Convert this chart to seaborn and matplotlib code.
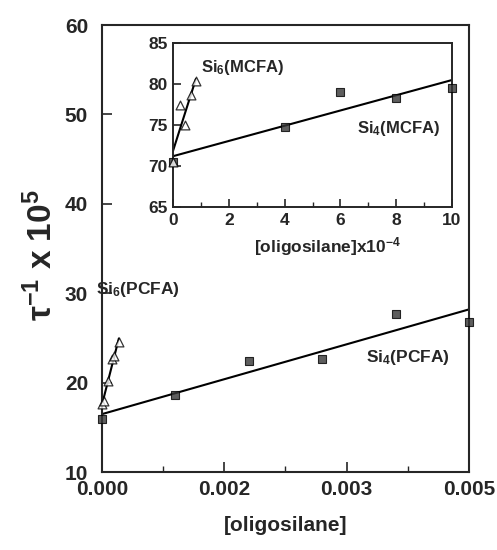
import numpy as np
import pandas as pd
import matplotlib
matplotlib.use("Agg")
import matplotlib.pyplot as plt
import matplotlib.ticker as mticker
import seaborn as sns

# ---- data ----
si4_pcfa_x = [0.0, 0.001, 0.002, 0.003, 0.004, 0.005]
si4_pcfa_y = [15.9, 18.6, 22.4, 22.6, 27.7, 26.8]
si6_pcfa_x = [0.0, 0.00003, 0.00008, 0.00013, 0.00017, 0.00023]
si6_pcfa_y = [17.6, 17.9, 20.2, 22.6, 23.0, 24.5]

si4_mcfa_x = [0.0, 4.0, 6.0, 8.0, 10.0]
si4_mcfa_y = [70.5, 74.7, 79.0, 78.3, 79.5]
si6_mcfa_x = [0.0, 0.25, 0.43, 0.63, 0.82]
si6_mcfa_y = [70.5, 77.4, 75.0, 78.7, 80.4]

main_yticks = [10, 20, 30, 40, 50, 60]
inset_yticks = [65, 70, 75, 80, 85]
inset_xticks = [0, 2, 4, 6, 8, 10]

sns.set_style("ticks")
plt.rcParams["font.family"] = ["Liberation Sans", "DejaVu Sans"]
plt.rcParams["font.weight"] = "bold"
plt.rcParams["mathtext.fontset"] = "custom"
plt.rcParams["mathtext.rm"] = "Liberation Sans:bold"
plt.rcParams["mathtext.it"] = "Liberation Sans:bold"
plt.rcParams["mathtext.bf"] = "Liberation Sans:bold"

fig = plt.figure(figsize=(4.97, 5.5), dpi=100)
ax = fig.add_axes([0.2052, 0.1418, 0.7384, 0.8127])
axi = fig.add_axes([0.3481, 0.6236, 0.5614, 0.2982])

sq_kws = dict(s=38, color="#363636", edgecolor="black", linewidths=0.8,
              zorder=3, clip_on=False)
tri_kws = dict(s=40, facecolor="white", edgecolor="black", linewidths=0.9,
               zorder=3, clip_on=False)
line_kws = dict(color="black", lw=1.5, zorder=2)

d1 = pd.DataFrame({"x": si4_pcfa_x, "y": si4_pcfa_y})
d2 = pd.DataFrame({"x": si6_pcfa_x, "y": si6_pcfa_y})
sns.regplot(data=d1, x="x", y="y", ax=ax, ci=None, marker="s",
            scatter_kws=sq_kws, line_kws=line_kws)
sns.regplot(data=d2, x="x", y="y", ax=ax, ci=None, marker="^",
            scatter_kws=tri_kws, line_kws=line_kws)

d3 = pd.DataFrame({"x": si4_mcfa_x, "y": si4_mcfa_y})
d4 = pd.DataFrame({"x": si6_mcfa_x, "y": si6_mcfa_y})
sns.regplot(data=d3, x="x", y="y", ax=axi, ci=None, marker="s",
            scatter_kws=sq_kws, line_kws=line_kws)
sns.regplot(data=d4, x="x", y="y", ax=axi, ci=None, marker="^",
            scatter_kws=tri_kws, line_kws=line_kws)

# main axes
ax.set_xlim(0, 0.005)
ax.set_ylim(10, 60)
ax.xaxis.set_major_locator(mticker.MultipleLocator(0.005 / 3))
ax.xaxis.set_minor_locator(mticker.MultipleLocator(0.005 / 6))
ax.xaxis.set_major_formatter(mticker.FormatStrFormatter("%.3f"))
ax.set_yticks(main_yticks)
ax.tick_params(axis="both", which="major", direction="in", length=7, width=1.2,
               labelsize=15, top=False, right=False)
ax.tick_params(axis="x", which="major", pad=6)
ax.tick_params(axis="y", which="major", pad=10)
ax.tick_params(axis="x", which="minor", direction="in", length=4, width=1.0, top=False)
for lab in ax.get_xticklabels() + ax.get_yticklabels():
    lab.set_fontweight("bold")
for sp in ax.spines.values():
    sp.set_linewidth(1.5)
ax.set_xlabel("[oligosilane]", fontsize=15, fontweight="bold", labelpad=12)
ax.set_ylabel("τ$^{-1}$ x 10$^5$", fontsize=24, fontweight="bold")
ax.yaxis.set_label_coords(-0.118, 0.485)

ax.text(0.00049, 30.4, "Si$_6$(PCFA)", fontsize=12.5, fontweight="bold",
        ha="center", va="center")
ax.text(0.00417, 22.8, "Si$_4$(PCFA)", fontsize=12.5, fontweight="bold",
        ha="center", va="center")

# inset axes
axi.set_xlim(0, 10)
axi.set_ylim(65, 85)
axi.set_xticks(inset_xticks)
axi.xaxis.set_minor_locator(mticker.MultipleLocator(1))
axi.set_yticks(inset_yticks)
axi.tick_params(axis="both", which="major", direction="in", length=6, width=1.2,
                labelsize=12.5, top=False, right=False, pad=4)
axi.tick_params(axis="x", which="minor", direction="in", length=3.5, width=1.0, top=False)
for lab in axi.get_xticklabels() + axi.get_yticklabels():
    lab.set_fontweight("bold")
for sp in axi.spines.values():
    sp.set_linewidth(1.4)
axi.set_xlabel("[oligosilane]x10$^{-4}$", fontsize=12.5, fontweight="bold")
axi.xaxis.set_label_coords(0.555, -0.17)
axi.set_ylabel("")
axi.text(2.5, 82.0, "Si$_6$(MCFA)", fontsize=12, fontweight="bold",
         ha="center", va="center")
axi.text(8.1, 74.6, "Si$_4$(MCFA)", fontsize=12, fontweight="bold",
         ha="center", va="center")

fig.savefig("out.png", dpi=100)
